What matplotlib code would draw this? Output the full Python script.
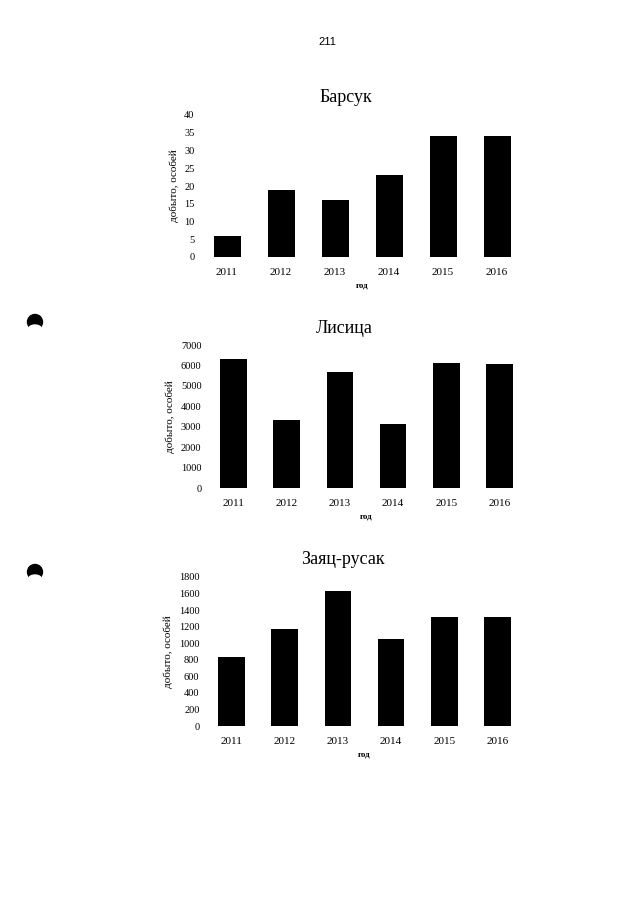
import matplotlib.pyplot as plt
from matplotlib.patches import Circle, Ellipse

# Данные (добыто, особей)
years = ['2011', '2012', '2013', '2014', '2015', '2016']
barsuk = [6, 19, 16, 23, 34, 34]
lisica = [6300, 3350, 5700, 3150, 6100, 6080]
zayac = [830, 1170, 1635, 1045, 1320, 1315]

titles = ['Барсук', 'Лисица', 'Заяц-русак']
series = [barsuk, lisica, zayac]
y_max = [40, 7000, 1800]
y_step = [5, 1000, 200]

plt.rcParams['font.family'] = ['Liberation Serif', 'DejaVu Serif']

fig = plt.figure(figsize=(6.39, 9.05), dpi=100)

# положения осей в пикселях: левый край, правый, верх (макс. y), низ (ноль), центр заголовка
boxes = [(200, 524, 115, 257, 346), (207, 526, 345, 488, 344), (205, 524, 577, 726, 343)]

for (x0, x1, top, bot, tx), title, vals, ym, st in zip(boxes, titles, series, y_max, y_step):
    ax = fig.add_axes([x0 / 639, 1 - bot / 905, (x1 - x0) / 639, (bot - top) / 905])
    ax.bar(range(len(years)), vals, width=0.5, color='black')
    ax.set_xlim(-0.5, len(years) - 0.5)
    ax.set_ylim(0, ym)
    ax.set_yticks(range(0, ym + 1, st))
    ax.set_xticks(range(len(years)))
    ax.set_xticklabels(years)
    ax.tick_params(length=0, labelsize=7.5, pad=4)
    ax.tick_params(axis='x', labelsize=8, pad=8)
    for s in ax.spines.values():
        s.set_visible(False)
    ax.set_title(title, fontsize=13, pad=9, x=(tx - x0) / (x1 - x0))
    ax.set_ylabel('добыто, особей', fontsize=8, labelpad=4)
    ax.set_xlabel('год', fontsize=6.5, fontweight='bold', labelpad=3)

# номер страницы
fig.text(327 / 639, 1 - 42 / 905, '211', ha='center', va='center',
         fontsize=8, family='Liberation Sans')

# следы дырокола слева
for yy in [322, 572]:
    fig.add_artist(Circle((0.35, (905 - yy) / 100), 0.075, color='black',
                          transform=fig.dpi_scale_trans))
    fig.add_artist(Ellipse((0.35, (905 - yy - 7) / 100), 0.13, 0.08, color='white',
                           transform=fig.dpi_scale_trans))

fig.savefig('out.png', dpi=100, facecolor='white')
